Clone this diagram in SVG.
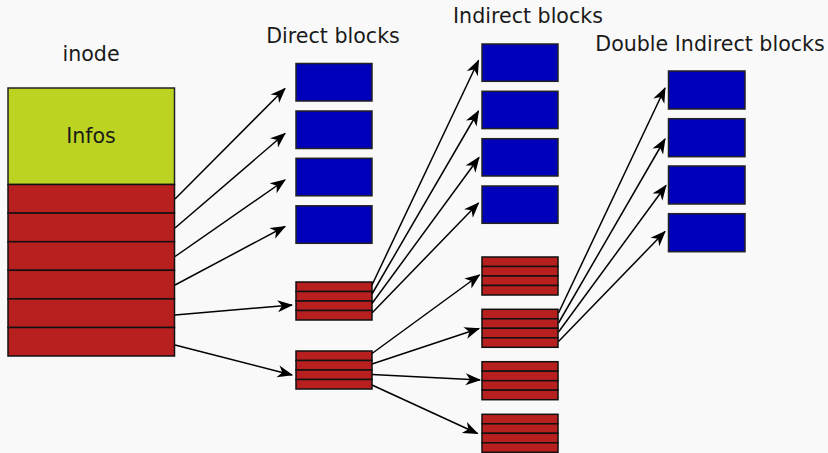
<svg xmlns="http://www.w3.org/2000/svg" width="828" height="453" viewBox="0 0 828 453">
<defs>
<style>
text{font-family:"DejaVu Sans","Liberation Sans",sans-serif;font-size:20.6px;fill:#1a1a1a;text-anchor:middle}
.g{fill:#bcd421;stroke:#222;stroke-width:1.5}
.r{fill:#b82020;stroke:#111;stroke-width:1.5}
.b{fill:#0000bb;stroke:#222;stroke-width:1.5}
.c line{stroke:#000;stroke-width:1.5;marker-end:url(#ah)}
</style>
<marker id="ah" markerUnits="userSpaceOnUse" markerWidth="20" markerHeight="20" viewBox="-16 -8 18 16" refX="0" refY="0" orient="auto">
<path d="M1,0 L-13,-5.5 L-9,0 L-13,5.5 Z" fill="#000"/>
</marker>
<g id="stack">
<rect class="r" x="0" y="0" width="76" height="9.5"/>
<rect class="r" x="0" y="9.5" width="76" height="9.5"/>
<rect class="r" x="0" y="19" width="76" height="9.5"/>
<rect class="r" x="0" y="28.5" width="76" height="9.5"/>
</g>
</defs>
<rect width="828" height="453" fill="#f9f9f9"/>
<text x="91" y="61">inode</text>
<text x="333" y="43">Direct blocks</text>
<text x="528" y="23">Indirect blocks</text>
<text x="710" y="51">Double Indirect blocks</text>
<g id="inode">
<rect class="g" x="8" y="88" width="166.5" height="96.5"/>
<text x="91" y="142.5">Infos</text>
<rect class="r" x="8" y="184.5" width="166.5" height="28.6"/>
<rect class="r" x="8" y="213.1" width="166.5" height="28.6"/>
<rect class="r" x="8" y="241.7" width="166.5" height="28.6"/>
<rect class="r" x="8" y="270.3" width="166.5" height="28.6"/>
<rect class="r" x="8" y="298.9" width="166.5" height="28.6"/>
<rect class="r" x="8" y="327.5" width="166.5" height="28.5"/>
</g>
<g id="direct1"><rect class="b" x="296" y="63.5" width="76" height="37.5"/></g>
<g id="direct2"><rect class="b" x="296" y="111" width="76" height="37.5"/></g>
<g id="direct3"><rect class="b" x="296" y="158.3" width="76" height="37.5"/></g>
<g id="direct4"><rect class="b" x="296" y="205.8" width="76" height="37.5"/></g>
<g id="ind-ptr"><use href="#stack" x="296" y="282"/></g>
<g id="dind-ptr"><use href="#stack" x="296" y="351"/></g>
<g id="indirect1"><rect class="b" x="482" y="44" width="76" height="37.3"/></g>
<g id="indirect2"><rect class="b" x="482" y="91.3" width="76" height="37.3"/></g>
<g id="indirect3"><rect class="b" x="482" y="138.7" width="76" height="37.3"/></g>
<g id="indirect4"><rect class="b" x="482" y="186" width="76" height="37.3"/></g>
<g id="ind-stack1"><use href="#stack" x="482" y="257"/></g>
<g id="ind-stack2"><use href="#stack" x="482" y="309.3"/></g>
<g id="ind-stack3"><use href="#stack" x="482" y="361.7"/></g>
<g id="ind-stack4"><use href="#stack" x="482" y="414.3"/></g>
<g id="dbl1"><rect class="b" x="668.5" y="71" width="76.5" height="38"/></g>
<g id="dbl2"><rect class="b" x="668.5" y="118.7" width="76.5" height="38"/></g>
<g id="dbl3"><rect class="b" x="668.5" y="166" width="76.5" height="38"/></g>
<g id="dbl4"><rect class="b" x="668.5" y="213.7" width="76.5" height="38"/></g>
<g class="c" id="connectors">
<line x1="175" y1="199" x2="285" y2="88.5"/>
<line x1="175" y1="228" x2="285" y2="133.5"/>
<line x1="175" y1="256.5" x2="285" y2="180"/>
<line x1="175" y1="285" x2="285" y2="226.5"/>
<line x1="175" y1="315" x2="292" y2="305"/>
<line x1="175" y1="345" x2="292" y2="375"/>
<line x1="372" y1="285" x2="478.5" y2="60.5"/>
<line x1="372" y1="294" x2="478.5" y2="111"/>
<line x1="372" y1="303.5" x2="479" y2="157.5"/>
<line x1="372" y1="313" x2="478.5" y2="203"/>
<line x1="372" y1="353.5" x2="479.5" y2="275"/>
<line x1="372" y1="364" x2="479" y2="328.5"/>
<line x1="372" y1="374.5" x2="480" y2="380"/>
<line x1="372" y1="385" x2="477.5" y2="433.5"/>
<line x1="558.5" y1="313" x2="665" y2="88"/>
<line x1="558.5" y1="323" x2="665" y2="139"/>
<line x1="558.5" y1="332" x2="666" y2="185.5"/>
<line x1="558.5" y1="341.5" x2="665" y2="231.5"/>
</g>
</svg>
